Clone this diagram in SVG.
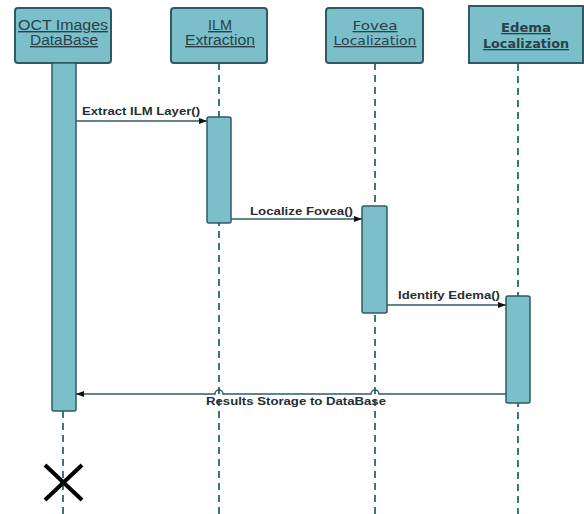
<svg xmlns="http://www.w3.org/2000/svg" width="584" height="514" viewBox="0 0 584 514">
<defs>
<style>
.hdr{fill:#7bbfca;stroke:#2e5b63;stroke-width:2}
.act{fill:#7bbfca;stroke:#2e5b63;stroke-width:1.5}
.life{stroke:#3a7580;stroke-width:2;stroke-dasharray:7,5;fill:none}
.msg{stroke:#2e5b63;stroke-width:1.5;fill:none}
.ht{font-family:"Liberation Sans",Arial,sans-serif;font-size:14px;fill:#2b4148;text-anchor:middle;text-decoration:underline}
.hv{font-family:"DejaVu Sans",Verdana,sans-serif;font-size:13px;fill:#2b4148;text-anchor:middle;text-decoration:underline}
.mt{font-family:"Liberation Sans",Arial,sans-serif;font-size:11px;font-weight:bold;fill:#1f2f33}
</style>
<marker id="arr" markerWidth="8" markerHeight="6" refX="8" refY="3" orient="auto" markerUnits="userSpaceOnUse">
<path d="M0,0 L8,3 L0,6 Z" fill="#111"/>
</marker>
</defs>
<rect width="584" height="514" fill="#fff"/>
<g id="lifelines">
<line class="life" x1="63" y1="63" x2="63" y2="514"/>
<line class="life" x1="219" y1="63" x2="219" y2="514"/>
<line class="life" x1="375" y1="63" x2="375" y2="514"/>
<line class="life" x1="518" y1="64" x2="518" y2="514" stroke-dasharray="4,5" stroke-width="1.5"/>
</g>
<g id="node-oct">
<rect class="hdr" x="15" y="8" width="96" height="55" rx="3"/>
<text class="ht" x="63" y="30" textLength="90" lengthAdjust="spacingAndGlyphs">OCT Images</text>
<text class="ht" x="64" y="45" textLength="68" lengthAdjust="spacingAndGlyphs">DataBase</text>
<rect class="act" x="52" y="63" width="24" height="348" rx="2"/>
</g>
<g id="node-ilm">
<rect class="hdr" x="171" y="8" width="96" height="55" rx="3"/>
<text class="ht" x="220" y="30" textLength="24" lengthAdjust="spacingAndGlyphs">ILM</text>
<text class="ht" x="220" y="45" textLength="70" lengthAdjust="spacingAndGlyphs">Extraction</text>
<rect class="act" x="207" y="117" width="24" height="106" rx="2"/>
</g>
<g id="node-fovea">
<rect class="hdr" x="326" y="8" width="97" height="55" rx="3"/>
<text class="hv" x="375" y="30" textLength="45" lengthAdjust="spacingAndGlyphs">Fovea</text>
<text class="hv" x="375" y="45" textLength="83" lengthAdjust="spacingAndGlyphs">Localization</text>
<rect class="act" x="362" y="206" width="25" height="107" rx="2"/>
</g>
<g id="node-edema">
<rect class="hdr" x="469" y="6" width="114" height="57" stroke="#1a1a1a"/>
<text class="hv" x="526" y="32" font-weight="bold" textLength="50" lengthAdjust="spacingAndGlyphs">Edema</text>
<text class="hv" x="526" y="48" font-weight="bold" textLength="86" lengthAdjust="spacingAndGlyphs">Localization</text>
<rect class="act" x="506" y="296" width="24" height="107" rx="2"/>
</g>
<g id="connectors">
<line class="msg" x1="76" y1="121" x2="207" y2="121" marker-end="url(#arr)"/>
<text class="mt" x="82" y="115" textLength="118" lengthAdjust="spacingAndGlyphs">Extract ILM Layer()</text>
<line class="msg" x1="231" y1="219" x2="362" y2="219" marker-end="url(#arr)"/>
<text class="mt" x="250" y="215" textLength="103" lengthAdjust="spacingAndGlyphs">Localize Fovea()</text>
<line class="msg" x1="387" y1="305" x2="506" y2="305" marker-end="url(#arr)"/>
<text class="mt" x="398" y="299" textLength="102" lengthAdjust="spacingAndGlyphs">Identify Edema()</text>
<path class="msg" d="M506,394 L379,394 A4,4 0 0 0 371,394 L223,394 A4,4 0 0 0 215,394 L76,394" marker-end="url(#arr)"/>
<text class="mt" x="206" y="405" textLength="180" lengthAdjust="spacingAndGlyphs">Results Storage to DataBase</text>
</g>
<g id="destroy" stroke="#000" stroke-width="4">
<line x1="45" y1="465" x2="82" y2="500"/>
<line x1="82" y1="465" x2="45" y2="500"/>
</g>
</svg>
